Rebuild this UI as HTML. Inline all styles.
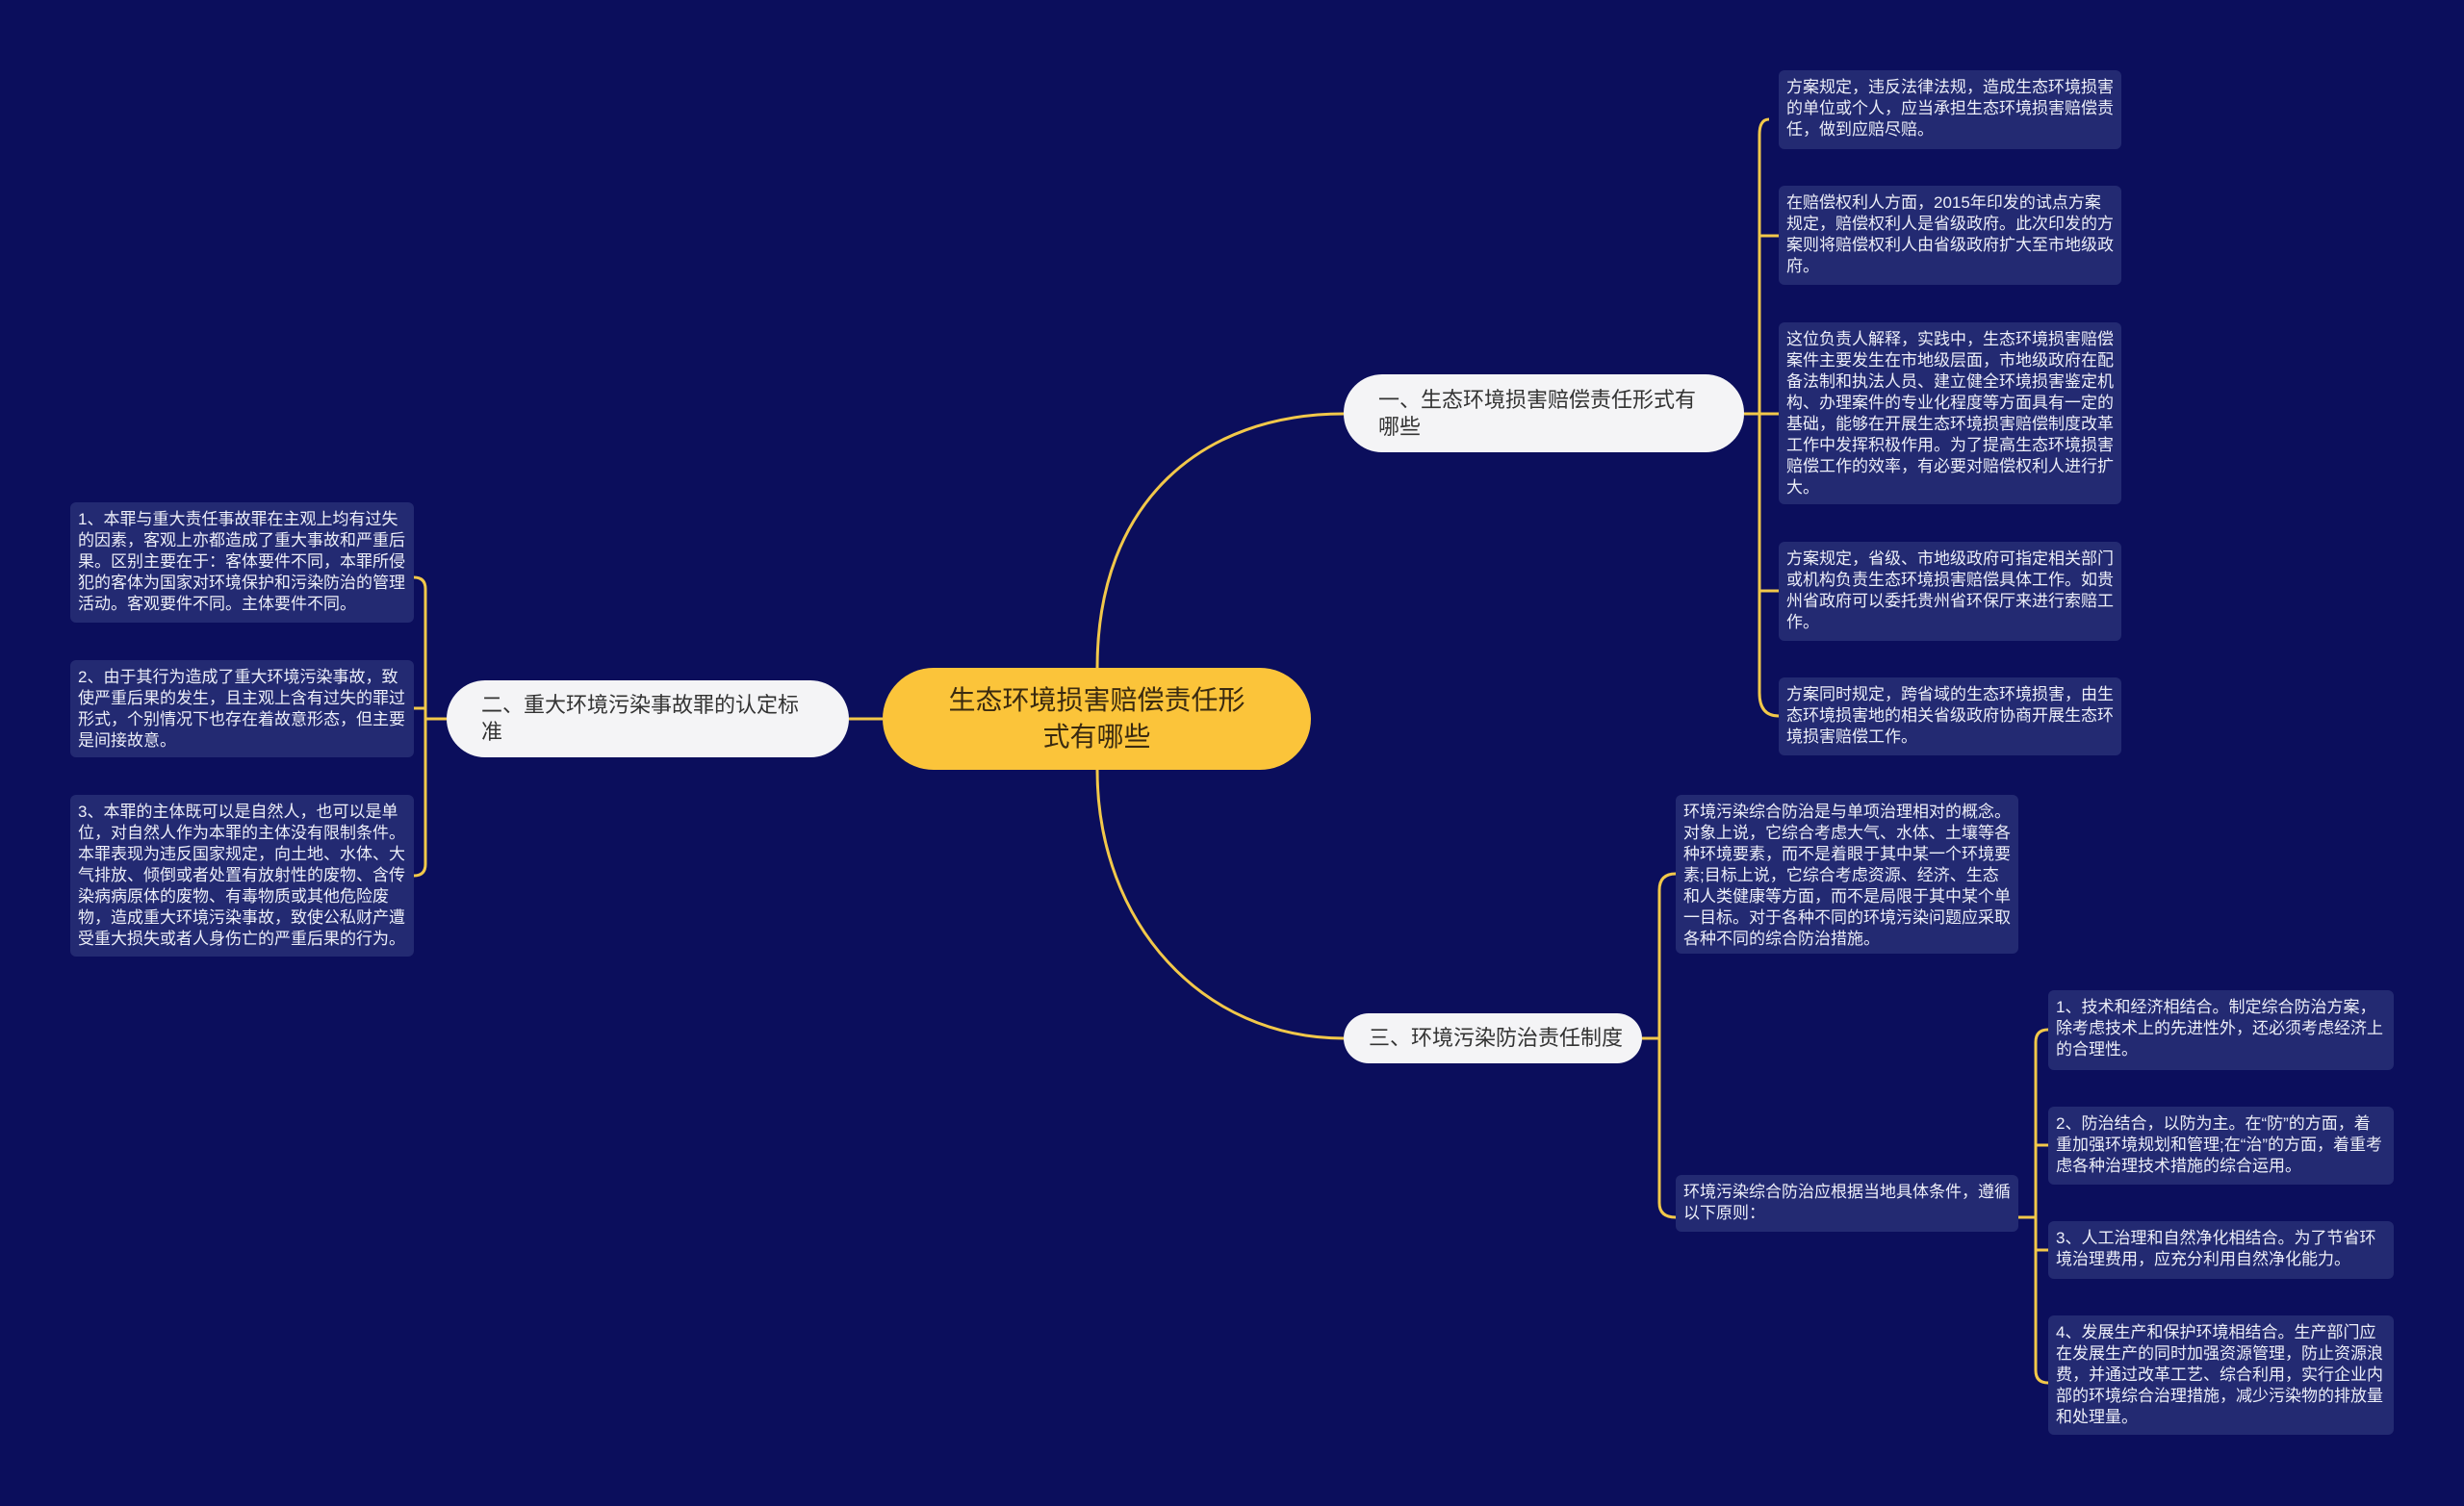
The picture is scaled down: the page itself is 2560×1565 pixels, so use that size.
<!DOCTYPE html>
<html><head><meta charset="utf-8"><style>
body{margin:0;width:2560px;height:1565px;background:#0b0e5c;overflow:hidden;position:relative;font-family:"Liberation Sans","Noto Sans CJK SC",sans-serif}
.l{position:absolute;background:#232a72;color:#eceef8;font-size:17px;line-height:22px;padding:7px 8px;box-sizing:border-box;border-radius:6px;word-break:break-all}
.b{position:absolute;background:#f4f4f6;color:#333;font-size:22px;line-height:28px;box-sizing:border-box;border-radius:40px;padding:0 36px;display:flex;align-items:center}
svg{position:absolute;left:0;top:0}
</style></head><body>
<svg width="2560" height="1565" fill="none" stroke="#f2c84a" stroke-width="3">
<path d="M1140 694 C1140 520 1250 430 1396 430"/>
<path d="M917 747 H882"/>
<path d="M1140 800 C1140 960 1250 1079 1396 1079"/>
<path d="M1812 430 H1828"/>
<path d="M1838 124 Q1828 124 1828 140 V720 Q1828 744 1848 744"/>
<path d="M1828 245 Q1828 245 1848 245"/>
<path d="M1828 430 H1848"/>
<path d="M1828 614 H1848"/>
<path d="M464 747 H442"/>
<path d="M430 600 Q442 600 442 612 V898 Q442 910 430 910"/>
<path d="M442 736 H430"/>
<path d="M1706 1079 H1724"/>
<path d="M1741 908 Q1724 908 1724 925 V1250 Q1724 1265 1741 1265"/>
<path d="M2097 1265 H2115"/>
<path d="M2128 1070 Q2115 1070 2115 1083 V1424 Q2115 1437 2128 1437"/>
<path d="M2115 1190 H2128"/>
<path d="M2115 1299 H2128"/>
</svg>
<div class="b" style="left:917px;top:694px;width:445px;height:106px;background:#fbc43a;color:#3a2a10;font-size:28px;line-height:38px;justify-content:center;text-align:center;padding:0 60px;border-radius:53px">生态环境损害赔偿责任形式有哪些</div>
<div class="b" style="left:1396px;top:389px;width:416px;height:81px">一、生态环境损害赔偿责任形式有哪些</div>
<div class="b" style="left:464px;top:707px;width:418px;height:80px">二、重大环境污染事故罪的认定标准</div>
<div class="b" style="left:1396px;top:1053px;width:310px;height:52px;padding:0 18px 0 26px;white-space:nowrap">三、环境污染防治责任制度</div>

<div class="l" style="left:1848px;top:73px;width:356px;height:82px">方案规定，违反法律法规，造成生态环境损害的单位或个人，应当承担生态环境损害赔偿责任，做到应赔尽赔。</div>
<div class="l" style="left:1848px;top:193px;width:356px;height:103px">在赔偿权利人方面，2015年印发的试点方案规定，赔偿权利人是省级政府。此次印发的方案则将赔偿权利人由省级政府扩大至市地级政府。</div>
<div class="l" style="left:1848px;top:335px;width:356px;height:189px">这位负责人解释，实践中，生态环境损害赔偿案件主要发生在市地级层面，市地级政府在配备法制和执法人员、建立健全环境损害鉴定机构、办理案件的专业化程度等方面具有一定的基础，能够在开展生态环境损害赔偿制度改革工作中发挥积极作用。为了提高生态环境损害赔偿工作的效率，有必要对赔偿权利人进行扩大。</div>
<div class="l" style="left:1848px;top:563px;width:356px;height:103px">方案规定，省级、市地级政府可指定相关部门或机构负责生态环境损害赔偿具体工作。如贵州省政府可以委托贵州省环保厅来进行索赔工作。</div>
<div class="l" style="left:1848px;top:704px;width:356px;height:81px">方案同时规定，跨省域的生态环境损害，由生态环境损害地的相关省级政府协商开展生态环境损害赔偿工作。</div>

<div class="l" style="left:73px;top:522px;width:357px;height:125px">1、本罪与重大责任事故罪在主观上均有过失的因素，客观上亦都造成了重大事故和严重后果。区别主要在于：客体要件不同，本罪所侵犯的客体为国家对环境保护和污染防治的管理活动。客观要件不同。主体要件不同。</div>
<div class="l" style="left:73px;top:686px;width:357px;height:101px">2、由于其行为造成了重大环境污染事故，致使严重后果的发生，且主观上含有过失的罪过形式，个别情况下也存在着故意形态，但主要是间接故意。</div>
<div class="l" style="left:73px;top:826px;width:357px;height:168px">3、本罪的主体既可以是自然人，也可以是单位，对自然人作为本罪的主体没有限制条件。本罪表现为违反国家规定，向土地、水体、大气排放、倾倒或者处置有放射性的废物、含传染病病原体的废物、有毒物质或其他危险废物，造成重大环境污染事故，致使公私财产遭受重大损失或者人身伤亡的严重后果的行为。</div>

<div class="l" style="left:1741px;top:826px;width:356px;height:165px">环境污染综合防治是与单项治理相对的概念。对象上说，它综合考虑大气、水体、土壤等各种环境要素，而不是着眼于其中某一个环境要素;目标上说，它综合考虑资源、经济、生态和人类健康等方面，而不是局限于其中某个单一目标。对于各种不同的环境污染问题应采取各种不同的综合防治措施。</div>
<div class="l" style="left:1741px;top:1221px;width:356px;height:59px">环境污染综合防治应根据当地具体条件，遵循以下原则：</div>

<div class="l" style="left:2128px;top:1029px;width:359px;height:83px">1、技术和经济相结合。制定综合防治方案，除考虑技术上的先进性外，还必须考虑经济上的合理性。</div>
<div class="l" style="left:2128px;top:1150px;width:359px;height:81px">2、防治结合，以防为主。在“防”的方面，着重加强环境规划和管理;在“治”的方面，着重考虑各种治理技术措施的综合运用。</div>
<div class="l" style="left:2128px;top:1269px;width:359px;height:60px">3、人工治理和自然净化相结合。为了节省环境治理费用，应充分利用自然净化能力。</div>
<div class="l" style="left:2128px;top:1367px;width:359px;height:124px">4、发展生产和保护环境相结合。生产部门应在发展生产的同时加强资源管理，防止资源浪费，并通过改革工艺、综合利用，实行企业内部的环境综合治理措施，减少污染物的排放量和处理量。</div>
</body></html>
